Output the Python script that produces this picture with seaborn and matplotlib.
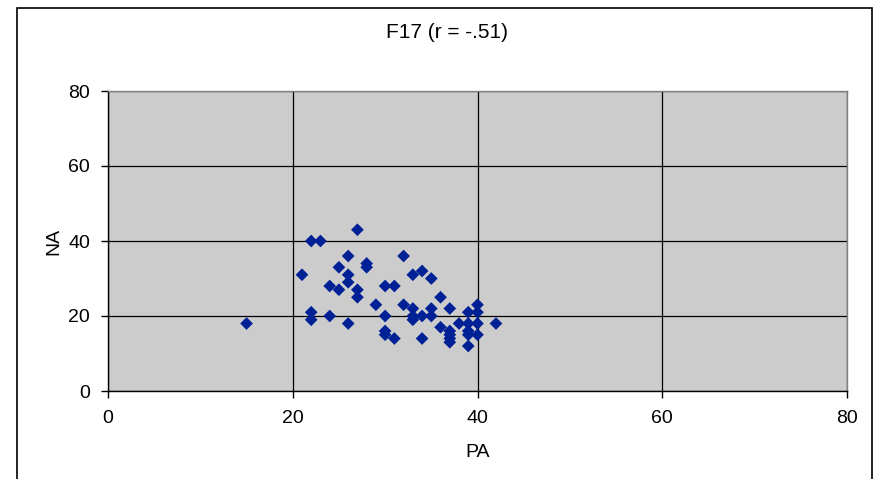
import matplotlib
matplotlib.use("Agg")
import matplotlib.pyplot as plt
import matplotlib.patches as mpatches
import seaborn as sns
import pandas as pd

# PA / NA scores
pa = [15, 21, 22, 23, 22, 22, 24, 24, 25, 25,
      26, 26, 26, 26, 27, 27, 27, 28, 28, 29,
      30, 30, 30, 30, 31, 31, 32, 32, 33, 33,
      33, 33, 34, 34, 34, 35, 35, 35, 36, 36,
      37, 37, 37, 37, 37, 38, 39, 39, 39, 39,
      39, 40, 40, 40, 40, 42]
na = [18, 31, 40, 40, 21, 19, 28, 20, 33, 27,
      36, 31, 29, 18, 43, 27, 25, 34, 33, 23,
      28, 20, 16, 15, 28, 14, 36, 23, 31, 22,
      20, 19, 32, 20, 14, 30, 22, 20, 25, 17,
      22, 16, 15, 14, 13, 18, 21, 18, 16, 15,
      12, 23, 21, 18, 15, 18]

title = "F17 (r = -.51)"
x_label = "PA"
y_label = "NA"
ticks = [0, 20, 40, 60, 80]

df = pd.DataFrame({x_label: pa, y_label: na})

sns.set_style("white")
plt.rcParams['font.family'] = ['Liberation Sans', 'DejaVu Sans']
plt.rcParams['font.size'] = 14
plt.rcParams['text.color'] = 'black'
plt.rcParams['axes.labelcolor'] = 'black'
plt.rcParams['xtick.color'] = 'black'
plt.rcParams['ytick.color'] = 'black'

fig = plt.figure(figsize=(8.8, 4.79), dpi=100)
ax = fig.add_axes([108 / 880, 1 - 391 / 479, (847 - 108) / 880, (391 - 91) / 479])
ax.set_facecolor('#CCCCCC')

sns.scatterplot(data=df, x=x_label, y=y_label, marker='D', s=42,
                color='#002096', edgecolor='none', ax=ax, zorder=3)

ax.set_xlim(0, 80)
ax.set_ylim(0, 80)
ax.set_xticks(ticks)
ax.set_yticks(ticks)
ax.grid(True, color='black', linewidth=0.9, zorder=1)
ax.set_axisbelow(True)
ax.tick_params(axis='both', direction='out', length=5, width=1,
               color='black', labelcolor='black', labelsize=14,
               bottom=True, left=True)
ax.tick_params(axis='x', pad=9)
ax.tick_params(axis='y', pad=8)

for side in ['top', 'right']:
    ax.spines[side].set_color('#808080')
    ax.spines[side].set_linewidth(1)
for side in ['bottom', 'left']:
    ax.spines[side].set_color('black')
    ax.spines[side].set_linewidth(1)

ax.set_xlabel(x_label, fontsize=14, labelpad=12, color='black')
ax.set_ylabel(y_label, fontsize=14, labelpad=4, color='black')

fig.text(447 / 880, 1 - 33 / 479, title, ha='center', va='center',
         fontsize=15, color='black')

# chart area border
border = mpatches.Rectangle((17 / 880, -0.05), (872 - 17) / 880, 1 - 8 / 479 + 0.05,
                            transform=fig.transFigure, fill=False,
                            edgecolor='black', linewidth=1.2, clip_on=False)
fig.patches.append(border)

fig.savefig("out.png", dpi=100, facecolor='white')
plt.close(fig)
